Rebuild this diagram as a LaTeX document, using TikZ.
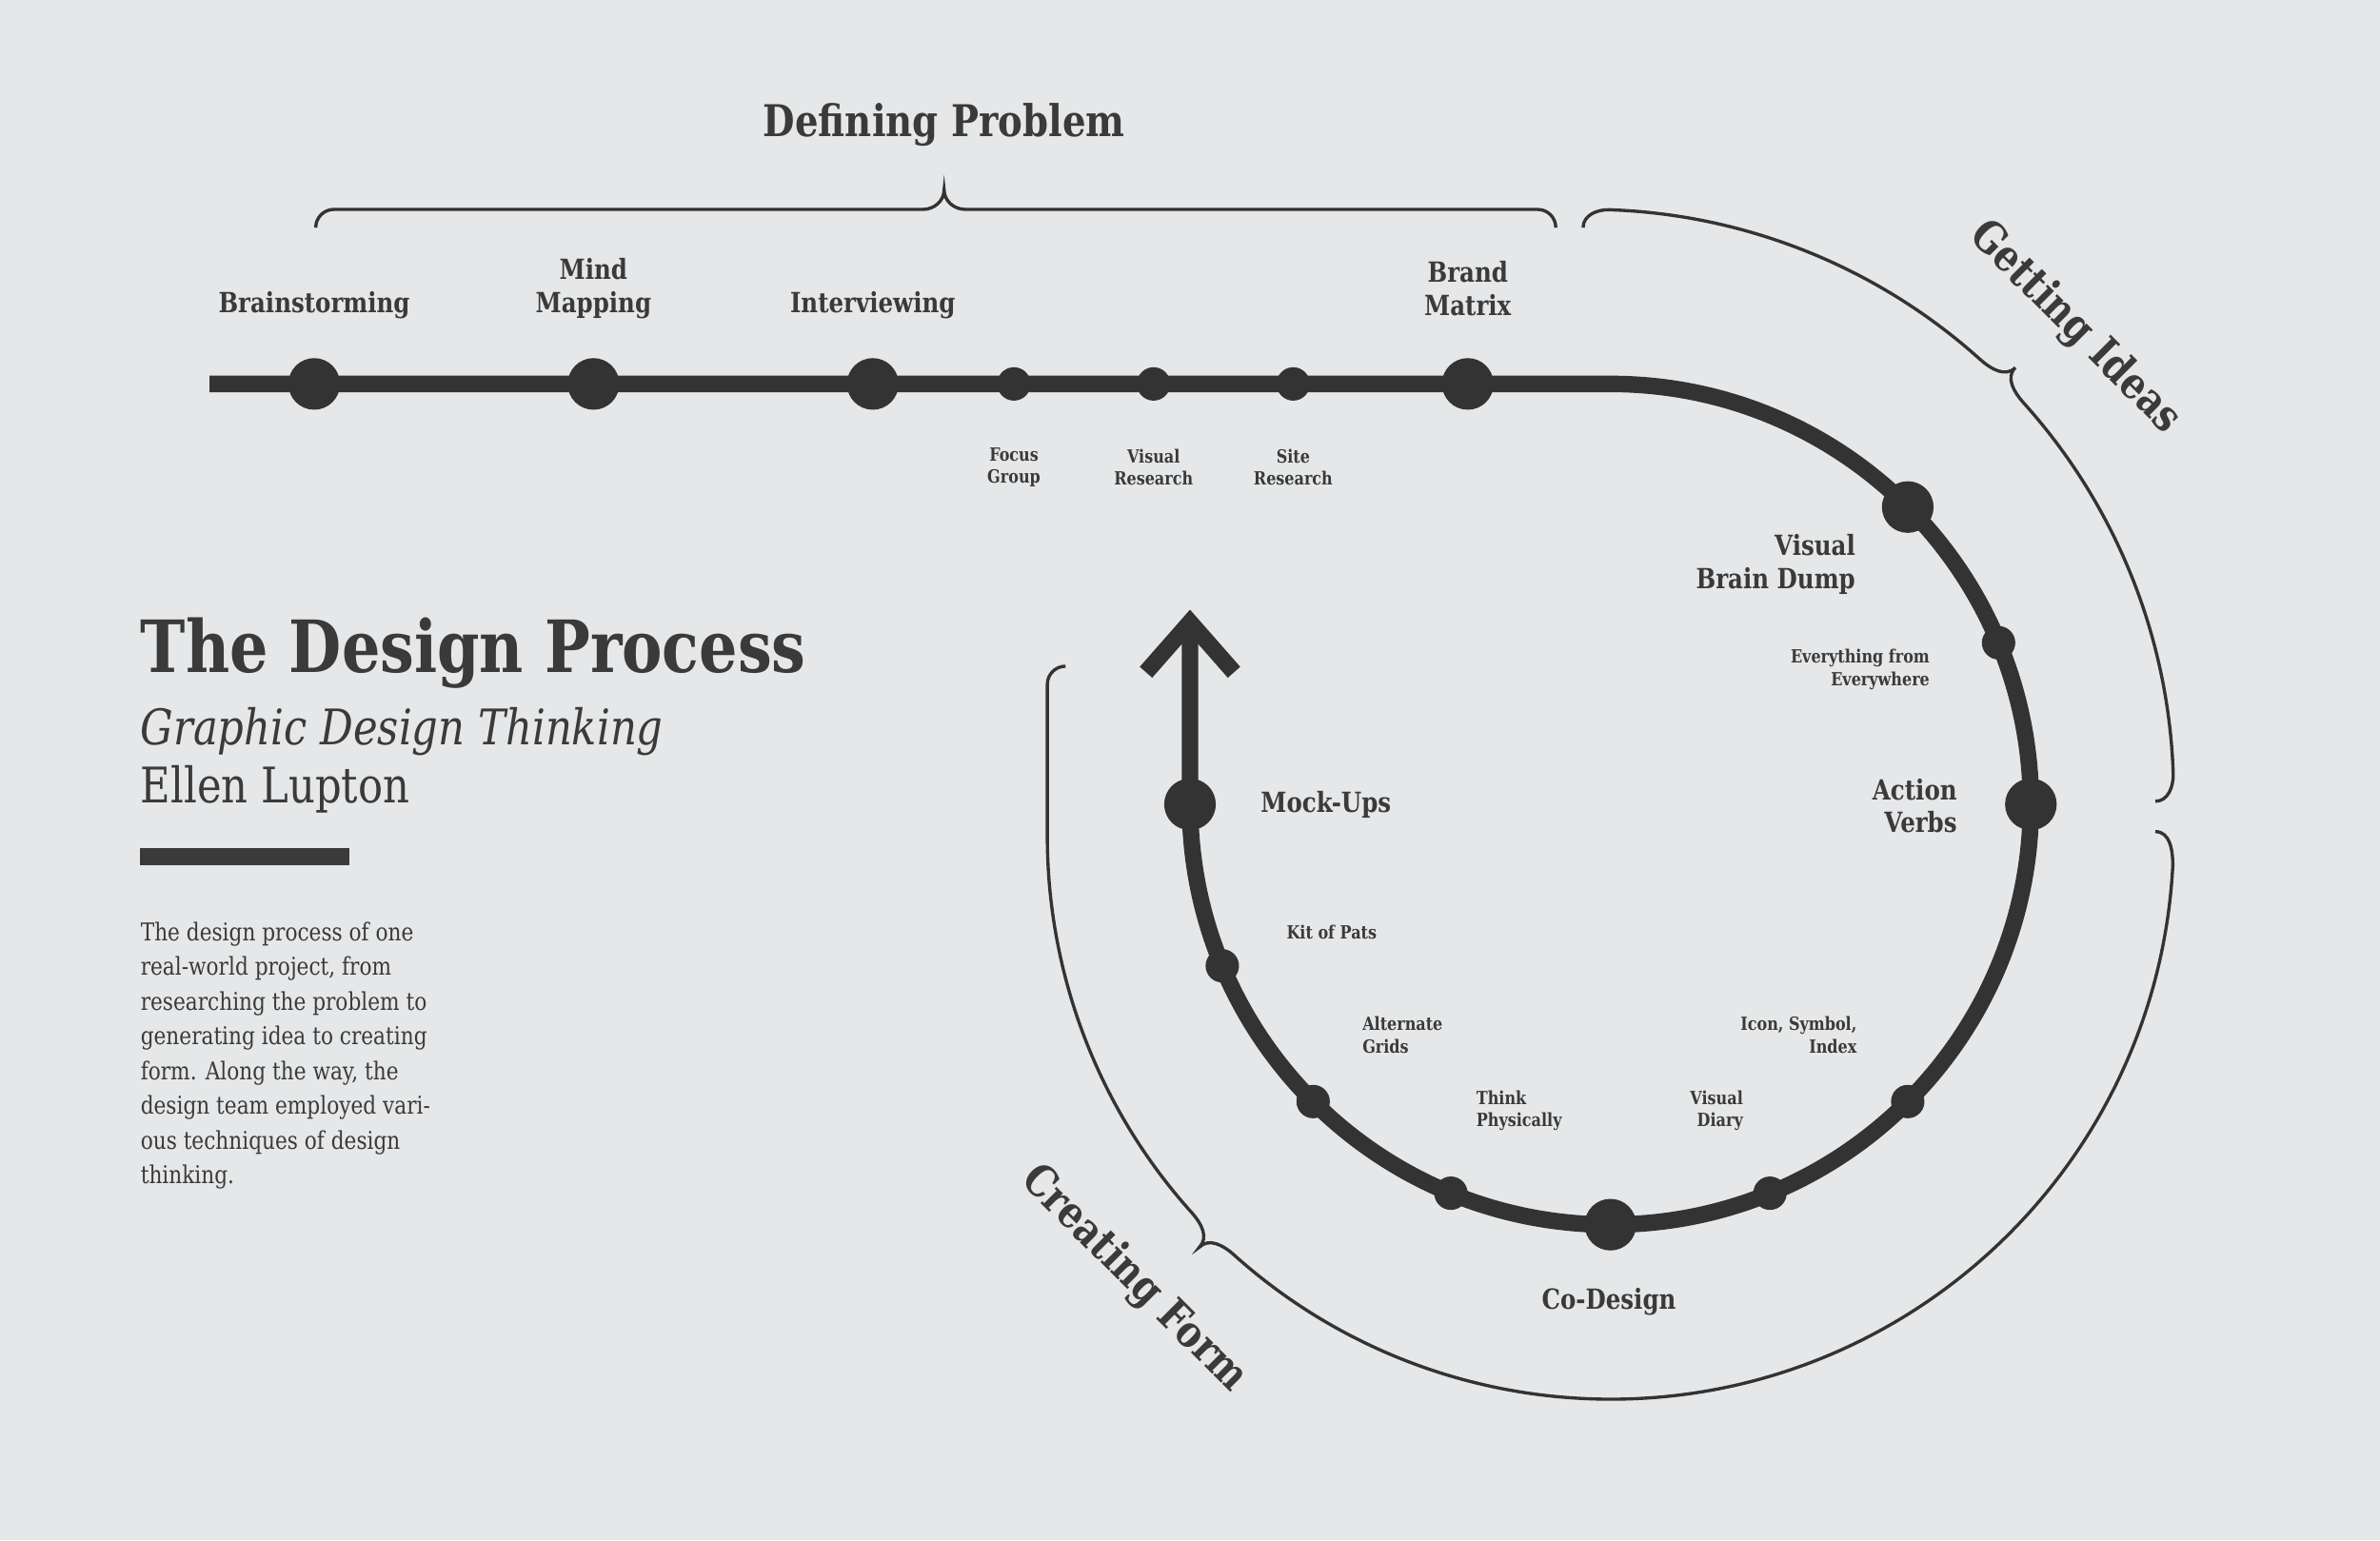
\documentclass[tikz,border=0pt]{standalone}
\usepackage{fontspec}
\setmainfont{DejaVu Serif}[FakeStretch=0.84]
\usetikzlibrary{calc,positioning}
\definecolor{paper}{HTML}{E6E7E8}
\definecolor{ink}{HTML}{333333}
\definecolor{inktext}{HTML}{3A3A3A}

\begin{document}
\begin{tikzpicture}[x=0.01cm,y=0.01cm,
    track/.style={draw=ink,line width=3.1pt},
    bigdot/.style={circle,fill=ink,inner sep=0pt,minimum size=0.34cm},
    smalldot/.style={circle,fill=ink,inner sep=0pt,minimum size=0.22cm},
    bracket/.style={draw=ink,line width=0.6pt},
    lab/.style={text=inktext,font=\fontsize{5.2}{6.2}\selectfont\bfseries,align=center,inner sep=0pt},
    tiny/.style={text=inktext,font=\fontsize{3.4}{4.2}\selectfont\bfseries,align=center,inner sep=0pt},
    head/.style={text=inktext,font=\fontsize{8.2}{9}\selectfont\bfseries,inner sep=0pt}]
  \fill[paper] (0,0) rectangle (1568,1015);
  \useasboundingbox (0,0) rectangle (1568,1015);

  \coordinate (o)  at (1061,485);
  \coordinate (cg) at (1047,492);
  \coordinate (cc) at (1061,464);
  \coordinate (start) at (138,762);
  \coordinate (tip) at (784,605);

  % track
  \draw[track] (start) -- (1061,762) arc[start angle=90,end angle=-180,radius=277] -- (tip);
  \draw[track,line cap=butt] (755,572) -- (tip) -- (813,572);

  % dots on the straight part
  \node[bigdot]   (brain) at (207,762) {};
  \node[bigdot]   (mind)  at (391,762) {};
  \node[bigdot]   (inter) at (575,762) {};
  \node[smalldot] (focus) at (668,762) {};
  \node[smalldot] (vis)   at (760,762) {};
  \node[smalldot] (site)  at (852,762) {};
  \node[bigdot]   (brand) at (967,762) {};

  % dots on the circle
  \node[bigdot]   (dump)   at ($(o)+(45:277)$) {};
  \node[smalldot] (every)  at ($(o)+(22.6:277)$) {};
  \node[bigdot]   (verbs)  at ($(o)+(0:277)$) {};
  \node[smalldot] (icon)   at ($(o)+(-45:277)$) {};
  \node[smalldot] (diary)  at ($(o)+(-67.7:277)$) {};
  \node[bigdot]   (codes)  at ($(o)+(-90:277)$) {};
  \node[smalldot] (think)  at ($(o)+(-112.3:277)$) {};
  \node[smalldot] (grids)  at ($(o)+(-135:277)$) {};
  \node[smalldot] (kit)    at ($(o)+(-157.4:277)$) {};
  \node[bigdot]   (mock)   at ($(o)+(180:277)$) {};

  % labels
  \node[lab] (l-brain) at (207,814) {Brainstorming};
  \node[lab] (l-mind)  at (391,825) {Mind\\Mapping};
  \node[lab] (l-inter) at (575,814) {Interviewing};
  \node[lab] (l-brand) at (967,825) {Brand\\Matrix};
  \node[tiny] (l-focus) at (668,707) {Focus\\Group};
  \node[tiny] (l-vis)   at (760,707) {Visual\\Research};
  \node[tiny] (l-site)  at (852,707) {Site\\Research};
  \node[lab,align=right,anchor=east]  (l-dump)  at (1223,643) {Visual\\Brain Dump};
  \node[tiny,align=right,anchor=east] (l-every) at (1272,574) {Everything from\\Everywhere};
  \node[lab,align=right,anchor=east]  (l-verbs) at (1290,484) {Action\\Verbs};
  \node[lab,anchor=west]              (l-mock)  at (830,485) {Mock-Ups};
  \node[tiny,anchor=west]             (l-kit)   at (847,401) {Kit of Pats};
  \node[tiny,align=left,anchor=west]  (l-grids) at (897,333) {Alternate\\Grids};
  \node[tiny,align=left,anchor=west]  (l-think) at (972,283) {Think\\Physically};
  \node[tiny,align=right,anchor=east] (l-diary) at (1149,283) {Visual\\Diary};
  \node[tiny,align=right,anchor=east] (l-icon)  at (1224,333) {Icon, Symbol,\\Index};
  \node[lab] (l-codes) at (1060,157) {Co-Design};

  % brackets
  \draw[bracket] (208,865) to[out=90,in=180] (220,877) -- (608,877)
    to[out=0,in=-90] (622,890) to[out=-90,in=180] (636,877) -- (1013,877)
    to[out=0,in=90] (1025,865);
  \draw[bracket] (1043,865) to[out=90,in=178] ($(cg)+(88:385)$)
    arc[start angle=88,end angle=48,radius=385]
    to[out=-42,in=225] ($(cg)+(45:397)$) to[out=225,in=132] ($(cg)+(42:385)$)
    arc[start angle=42,end angle=2,radius=385]
    to[out=-88,in=0] (1420,487);
  \draw[bracket] (1420,467) to[out=0,in=90] ($(cc)+(-3:371)$)
    arc[start angle=-3,end angle=-132,radius=371]
    to[out=138,in=45] ($(cc)+(-135:383)$) to[out=45,in=-48] ($(cc)+(-138:371)$)
    arc[start angle=-138,end angle=-180,radius=371]
    -- (690,564) to[out=90,in=180] (702,576);

  \node[head] (t-def)    at (622,933) {Defining Problem};
  \node[head,rotate=-45] (t-ideas) at (1367,799) {Getting Ideas};
  \node[head,rotate=-45] (t-form)  at (747,172) {Creating Form};

  % left column
  \node[text=inktext,font=\fontsize{13.5}{15}\selectfont\bfseries,anchor=base west,inner sep=0pt]
    (title) at (92,572) {The Design Process};
  \node[text=inktext,font=\fontsize{9.2}{10}\selectfont\itshape,anchor=base west,inner sep=0pt]
    (sub) at (92,524) {Graphic Design Thinking};
  \node[text=inktext,font=\fontsize{9.2}{10}\selectfont,anchor=base west,inner sep=0pt]
    (author) at (92,486) {Ellen Lupton};
  \fill[inktext] (92,445) rectangle (230,456);
  \node[text=inktext,font=\fontsize{4.6}{6.5}\selectfont,align=left,anchor=north west,inner sep=0pt]
    (blurb) at (92,408) {The design process of one\\real-world project, from\\researching the problem to\\generating idea to creating\\form. Along the way, the\\design team employed vari-\\ous techniques of design\\thinking.};
\end{tikzpicture}
\end{document}
